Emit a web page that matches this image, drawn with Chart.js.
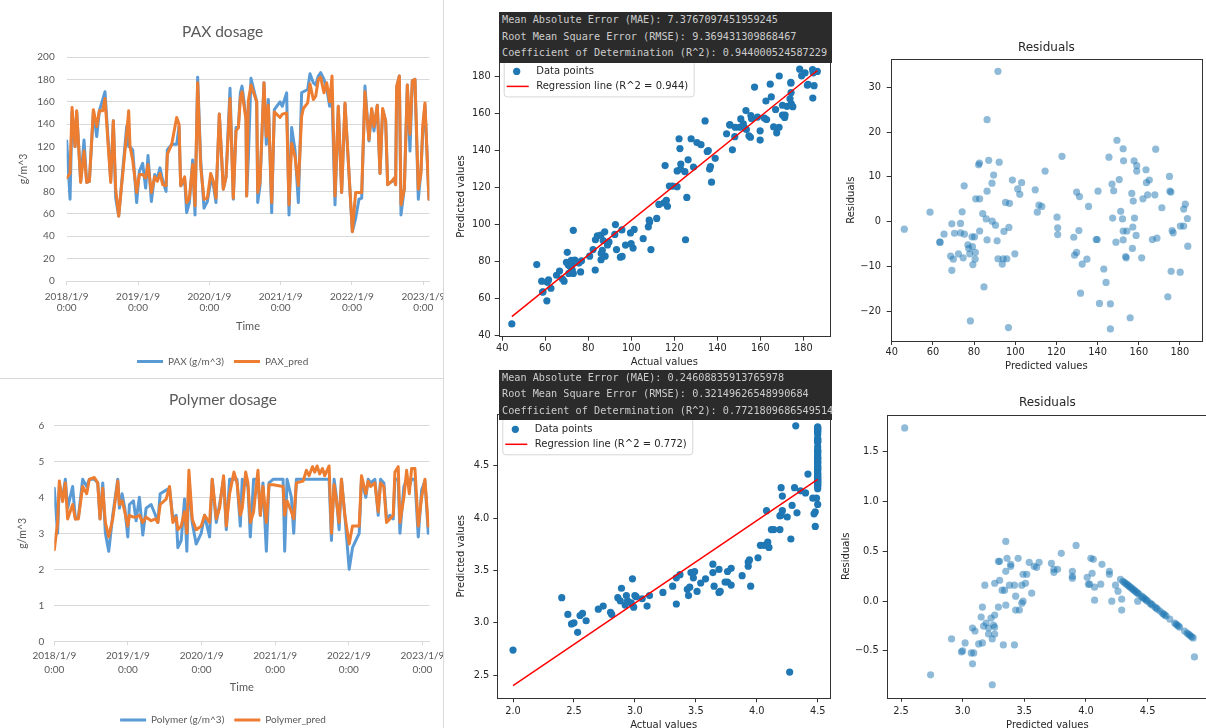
<!DOCTYPE html>
<html>
<head>
<meta charset="utf-8">
<title>PAX and Polymer dosage – prediction diagnostics</title>
<script src="https://cdn.jsdelivr.net/npm/chart.js@4.4.1/dist/chart.umd.min.js"></script>
<style>
  html, body { margin:0; padding:0; background:#ffffff; width:1206px; height:728px; overflow:hidden; position:relative; }
  .panel { position:absolute; overflow:hidden; }
  .panel canvas { position:absolute; left:0; top:0; }
  .metrics { position:absolute; background:#2b2b2b; color:#cccccc; font-family:'DejaVu Sans Mono', monospace; font-size:10.2px; white-space:pre; padding:0 0 0 3px; box-sizing:border-box; z-index:10; }
  .rule { position:absolute; background:#d9d9d9; z-index:5; }
</style>
</head>
<body>
<div class="panel" style="left:0;top:0;width:443px;height:378px;"><canvas id="paxLine" width="460" height="378"></canvas></div>
<div class="panel" style="left:0;top:380px;width:443px;height:348px;"><canvas id="polyLine" width="460" height="356"></canvas></div>
<div class="panel" style="left:440px;top:0;width:400px;height:370px;"><canvas id="paxScatter" width="400" height="370"></canvas></div>
<div class="panel" style="left:440px;top:365px;width:400px;height:363px;"><canvas id="polyScatter" width="400" height="368"></canvas></div>
<div class="panel" style="left:840px;top:0;width:366px;height:375px;"><canvas id="paxResid" width="366" height="375"></canvas></div>
<div class="panel" style="left:840px;top:378px;width:366px;height:350px;"><canvas id="polyResid" width="372" height="356"></canvas></div>
<div class="rule" style="left:443px;top:0;width:1px;height:728px;"></div>
<div class="rule" style="left:0;top:378px;width:443px;height:1px;"></div>
<div class="metrics" id="paxMetricsBox" style="left:499px;top:12px;width:333px;height:51.3px;line-height:16.7px;"></div>
<div class="metrics" id="polyMetricsBox" style="left:499px;top:370px;width:333px;height:50px;line-height:16.35px;"></div>

<script>
// ===================== DATA =====================
const yearTickLabels = [['2018/1/9','0:00'],['2019/1/9','0:00'],['2020/1/9','0:00'],['2021/1/9','0:00'],['2022/1/9','0:00'],['2023/1/9','0:00']];

// PAX time series: time in years since 2018/1/9
const paxT = [0.000,0.047,0.075,0.117,0.140,0.196,0.243,0.280,0.318,0.374,0.421,0.458,0.505,0.537,0.617,0.654,0.687,0.729,0.841,0.869,0.888,0.925,0.981,1.019,1.065,1.107,1.140,1.187,1.234,1.271,1.308,1.346,1.393,1.411,1.472,1.542,1.575,1.598,1.654,1.682,1.720,1.766,1.799,1.836,1.879,1.925,1.972,2.019,2.056,2.093,2.140,2.196,2.234,2.290,2.336,2.374,2.407,2.435,2.458,2.514,2.523,2.547,2.584,2.664,2.678,2.710,2.766,2.799,2.827,2.874,2.911,2.991,3.023,3.084,3.117,3.154,3.201,3.248,3.294,3.318,3.379,3.411,3.458,3.491,3.528,3.561,3.607,3.645,3.687,3.720,3.762,3.808,3.855,3.902,4.005,4.051,4.098,4.136,4.182,4.238,4.276,4.308,4.355,4.393,4.430,4.472,4.500,4.556,4.594,4.612,4.626,4.664,4.687,4.734,4.776,4.813,4.846,4.883,4.930,4.967,4.991,5.023,5.079];
const paxSeriesActual = [125,73,151,120,151,89,126,88,89,151,129,152,162,169,90,143,74,58,138,120,120,117,70,98,105,83,112,71,95,92,101,90,80,117,122,122,138,85,90,61,70,108,59,182,108,65,71,89,86,70,149,82,93,172,73,137,137,168,174,147,76,110,181,160,70,85,177,122,162,61,153,160,156,168,59,137,117,70,168,169,171,185,177,175,183,186,180,172,156,165,68,156,79,158,44,56,73,74,174,125,153,134,157,96,153,143,86,89,90,86,172,183,59,83,175,116,179,180,73,99,131,157,73];
const paxSeriesPred = [92,96,155,120,152,88,116,88,89,153,138,152,152,163,88,143,82,58,132,152,120,108,79,95,95,92,104,79,93,89,96,86,85,113,122,146,140,85,93,70,74,104,67,177,102,73,74,96,89,74,149,82,93,163,74,134,137,163,169,144,76,161,175,160,79,88,177,129,157,70,151,146,149,150,68,123,111,85,147,154,159,176,162,165,180,182,168,177,160,183,76,156,79,159,44,79,79,79,169,126,154,138,157,96,154,143,86,89,92,86,174,183,68,82,175,131,179,180,82,96,138,159,73];

// Polymer time series
const polyT = [0.000,0.045,0.068,0.113,0.150,0.181,0.249,0.286,0.327,0.385,0.440,0.476,0.544,0.590,0.621,0.658,0.694,0.739,0.794,0.862,0.884,0.921,0.957,0.998,1.020,1.075,1.111,1.156,1.202,1.247,1.315,1.374,1.406,1.438,1.519,1.565,1.610,1.655,1.678,1.723,1.769,1.800,1.828,1.873,1.927,1.995,2.041,2.109,2.145,2.200,2.245,2.299,2.336,2.381,2.440,2.481,2.526,2.553,2.599,2.630,2.662,2.707,2.766,2.798,2.834,2.880,2.916,2.971,3.107,3.129,3.161,3.220,3.252,3.288,3.379,3.424,3.460,3.506,3.537,3.569,3.605,3.642,3.673,3.732,3.764,3.800,3.832,3.868,3.900,3.946,4.005,4.050,4.095,4.141,4.172,4.231,4.263,4.295,4.354,4.399,4.431,4.476,4.512,4.558,4.603,4.626,4.671,4.694,4.748,4.785,4.821,4.853,4.898,4.943,4.989,5.034,5.079];
const polySeriesActual = [4.25,3.0,4.3,4.0,4.5,3.7,4.3,3.4,3.45,4.5,4.3,4.5,4.5,4.4,3.4,4.4,3.0,2.5,3.5,4.5,3.7,4.1,3.7,2.9,3.8,3.9,3.35,4.0,2.95,3.7,3.8,3.5,3.3,4.1,4.2,4.25,3.4,3.5,2.6,2.8,3.95,2.5,4.5,3.3,2.7,3.0,3.5,2.9,4.5,3.3,3.8,4.5,3.1,4.5,4.5,4.5,3.2,4.5,4.4,4.3,2.9,4.5,4.5,3.5,4.4,2.5,4.4,4.5,4.5,2.5,4.5,4.0,3.0,4.5,4.5,4.5,4.5,4.5,4.5,4.5,4.5,4.5,4.5,4.5,2.8,4.5,4.0,3.1,4.5,3.5,2.0,2.6,2.8,3.0,4.5,4.0,4.5,4.4,4.5,3.5,4.5,4.4,3.4,3.5,3.4,4.5,4.5,3.0,4.3,4.5,4.3,4.5,4.5,2.9,4.2,4.45,3.0];
const polySeriesPred = [2.54,3.3,4.45,3.88,4.4,3.4,3.8,3.4,3.4,4.3,4.1,4.5,4.55,4.4,3.4,4.25,3.3,2.9,3.4,4.45,3.8,3.9,3.6,3.2,3.5,3.45,3.45,3.5,3.3,3.45,3.35,3.4,3.3,3.8,3.95,4.3,3.3,3.45,3.1,3.2,3.6,3.0,4.75,3.4,3.1,3.2,3.5,3.3,4.5,3.4,3.7,4.6,3.2,4.1,4.7,4.4,3.5,3.7,4.7,4.4,3.3,3.6,4.75,3.5,4.3,3.3,4.35,4.35,4.3,3.5,3.9,3.6,3.4,4.4,4.45,4.75,4.6,4.85,4.7,4.87,4.65,4.8,4.6,4.87,3.0,4.35,3.9,3.3,4.5,3.5,2.7,3.2,3.2,3.2,4.6,4.1,4.45,4.3,4.4,3.6,4.4,4.3,3.3,3.4,3.5,4.7,4.85,3.3,4.0,4.75,4.1,4.8,4.8,3.2,4.0,4.5,3.2];

// PAX test set: actual vs predicted (g/m^3)
const paxActual = [44.4,60.7,58.9,58.7,62.6,60.9,68.7,58.3,61.5,67.9,65.2,73.0,70.9,76.4,66.6,83.2,72.5,71.8,71.4,70.7,56.0,75.6,73.6,69.8,76.8,73.7,72.1,85.9,94.9,95.7,87.8,80.6,86.0,70.2,86.5,93.1,109.1,82.2,100.8,97.3,88.9,99.9,89.6,86.9,125.2,83.3,105.5,84.2,85.8,92.3,99.6,87.6,73.0,95.6,101.3,107.9,92.6,108.5,108.3,111.8,116.8,112.8,115.2,116.3,125.8,121.3,119.2,117.7,137.3,124.9,121.3,136.4,122.9,128.9,136.8,115.7,123.0,126.4,139.0,135.3,135.8,147.0,122.6,132.4,130.5,159.9,127.8,122.2,155.4,148.1,154.7,144.3,167.6,159.9,153.5,152.7,168.7,166.2,148.3,150.3,145.8,152.1,145.8,134.3,162.9,150.9,155.9,161.9,171.3,158.7,171.5,170.3,155.6,153.3,167.1,175.1,172.4,170.3,174.4,162.6,173.8,184.4,165.1,174.3,157.3,185.0,181.9,182.2,164.6,174.2,174.2,168.8,179.2,180.8,184.6,186.5,184.3,178.3];
const paxPred = [46.1,58.6,63.5,63.3,65.4,68.6,69.2,69.2,69.9,70.5,72.4,73.4,73.4,74.2,74.7,75.2,75.3,77.0,77.4,77.9,78.2,79.0,79.2,79.4,80.2,80.6,80.5,80.8,82.2,82.6,82.7,82.7,84.2,84.8,85.9,86.3,86.3,86.3,87.1,88.7,88.8,89.5,90.4,91.2,91.6,91.6,92.2,93.7,94.1,94.5,95.3,95.9,96.7,96.9,97.2,98.6,99.8,101.2,102.2,103.1,109.7,110.7,111.5,112.9,114.5,120.3,120.6,120.6,122.7,128.4,128.8,129.8,129.8,130.9,131.2,131.7,132.5,134.8,135.6,139.3,139.8,140.2,140.9,143.0,144.1,145.5,146.2,146.2,147.0,147.3,147.8,148.9,149.4,150.5,151.2,152.1,152.4,152.6,152.4,152.4,153.6,154.2,153.9,155.8,156.6,156.9,157.1,157.3,157.7,157.9,159.0,159.0,158.7,161.4,162.0,163.5,163.7,164.3,165.1,166.6,167.8,168.2,168.8,171.2,174.1,174.9,175.1,175.6,175.7,176.2,176.7,180.1,180.2,181.8,181.8,182.6,183.6,183.8];

// Polymer test set: actual vs predicted (g/m^3)
const polyActual = [4.27,2.00,2.53,2.48,2.50,2.60,2.55,2.45,2.81,2.57,2.80,2.70,2.99,3.10,2.74,2.92,3.34,2.97,2.94,2.88,2.40,3.06,2.86,3.01,3.00,2.93,3.44,3.12,3.69,3.70,3.51,3.23,3.43,2.89,3.45,3.95,3.65,3.31,3.79,3.74,3.76,3.54,3.58,3.48,2.98,3.34,3.88,3.37,3.64,3.46,3.76,3.49,3.69,3.79,3.93,3.64,3.93,3.94,4.01,4.10,4.03,4.06,4.09,4.28,4.19,4.14,4.12,4.48,4.25,4.19,4.47,4.33,4.20,4.48,4.21,4.08,4.29,4.50,4.46,4.49,4.21,4.40,4.36,4.50,4.31,4.20,4.42,4.32,4.5,4.5,4.5,4.5,4.5,4.5,4.5,4.5,4.5,4.5,4.5,4.5,4.5,4.5,4.5,4.5,4.5,4.5,4.5,4.5,4.5,4.5,4.5,4.5,4.5,4.5,4.5,4.5,4.5,4.5,4.5,4.5,4.5,4.5,4.5,4.5,4.5,4.5,4.5,4.5,4.5,4.5,4.5,4.5];
const polyPred = [2.53,2.74,2.91,2.99,3.00,3.02,3.07,3.08,3.08,3.09,3.10,3.13,3.15,3.16,3.16,3.17,3.18,3.19,3.21,3.21,3.24,3.23,3.24,3.25,3.26,3.26,3.26,3.26,3.29,3.30,3.30,3.29,3.32,3.33,3.34,3.35,3.35,3.35,3.36,3.39,3.39,3.38,3.42,3.43,3.42,3.43,3.45,3.46,3.48,3.48,3.49,3.49,3.51,3.52,3.54,3.56,3.58,3.60,3.62,3.72,3.74,3.74,3.77,3.80,3.89,3.89,3.89,3.92,4.01,4.02,4.04,4.05,4.03,4.06,4.07,4.07,4.12,4.13,4.19,4.19,4.21,4.24,4.26,4.28,4.29,4.29,4.42,4.88,4.30,4.31,4.32,4.33,4.34,4.35,4.36,4.37,4.38,4.39,4.40,4.41,4.42,4.43,4.45,4.46,4.47,4.48,4.49,4.50,4.52,4.53,4.54,4.56,4.57,4.58,4.60,4.62,4.63,4.64,4.65,4.68,4.72,4.73,4.74,4.75,4.76,4.80,4.82,4.83,4.84,4.85,4.86,4.87];

const paxFit = { slope: 0.936, intercept: 8.5, r2: '0.944' };
const polyFit = { slope: 0.788, intercept: 0.824, r2: '0.772' };

const paxMetrics = ['Mean Absolute Error (MAE): 7.3767097451959245', 'Root Mean Square Error (RMSE): 9.369431309868467', 'Coefficient of Determination (R^2): 0.944000524587229'];
const polyMetrics = ['Mean Absolute Error (MAE): 0.24608835913765978', 'Root Mean Square Error (RMSE): 0.32149626548990684', 'Coefficient of Determination (R^2): 0.7721809686549514'];

// ===================== METRIC BOXES =====================
document.getElementById('paxMetricsBox').textContent = paxMetrics.join('\n');
document.getElementById('polyMetricsBox').textContent = polyMetrics.join('\n');

// ===================== EXCEL-STYLE LINE CHARTS =====================
const XL_FONT = 'Lato';
const XL_TXT = '#595959';

function excelLine(id, c) {
  const mk = (arr) => c.t.map((t, i) => ({ x: t, y: arr[i] }));
  return new Chart(document.getElementById(id), {
    type: 'line',
    data: {
      datasets: [
        { label: c.labels[0], data: mk(c.actual), borderColor: '#5B9BD5', backgroundColor: '#5B9BD5', borderWidth: 3, pointRadius: 0, tension: 0, order: 1, borderJoinStyle: 'round', borderCapStyle: 'round' },
        { label: c.labels[1], data: mk(c.pred), borderColor: '#ED7D31', backgroundColor: '#ED7D31', borderWidth: 3, pointRadius: 0, tension: 0, order: 0, borderJoinStyle: 'round', borderCapStyle: 'round' }
      ]
    },
    options: {
      responsive: false, animation: false, events: [],
      layout: { padding: c.pad },
      plugins: {
        title: { display: true, text: c.title, color: XL_TXT, font: { family: XL_FONT, size: 15.5, weight: 'normal' }, padding: c.titlePad },
        legend: { position: 'bottom', labels: { usePointStyle: true, pointStyle: 'line', pointStyleWidth: 26, color: XL_TXT, font: { family: XL_FONT, size: 10 }, padding: 10, sort: (a, b) => a.datasetIndex - b.datasetIndex } },
        tooltip: { enabled: false }
      },
      scales: {
        x: {
          type: 'linear', min: 0, max: c.xMax,
          afterFit(s) { s.height = c.xH; },
          ticks: { stepSize: 1, includeBounds: false, autoSkip: false, maxRotation: 0, padding: c.xTickPad, color: XL_TXT, font: { family: XL_FONT, size: 10, lineHeight: c.xLH }, callback: v => yearTickLabels[Math.round(v)] },
          grid: { display: true, drawOnChartArea: false, drawTicks: true, tickLength: 4, color: '#d9d9d9' },
          border: { display: true, color: '#d9d9d9' },
          title: { display: true, text: 'Time', color: XL_TXT, font: { family: XL_FONT, size: 11 }, padding: { top: c.xTitlePad, bottom: c.xTitlePad } }
        },
        y: {
          min: 0, max: c.yMax,
          afterFit(s) { s.width = c.yW; },
          ticks: { stepSize: c.yStep, padding: c.yTickPad, color: XL_TXT, font: { family: XL_FONT, size: 10 } },
          grid: { color: '#d9d9d9', drawTicks: false },
          border: { display: false },
          title: { display: true, text: 'g/m^3', color: XL_TXT, font: { family: XL_FONT, size: 10.5 }, padding: { top: c.yTitlePad, bottom: c.yTitlePad } }
        }
      }
    }
  });
}

excelLine('paxLine', {
  t: paxT, actual: paxSeriesActual, pred: paxSeriesPred, labels: ['PAX (g/m^3)', 'PAX_pred'], title: 'PAX dosage',
  pad: { left: 16, right: 30.7, top: 0, bottom: 1.5 }, titlePad: { top: 22.7, bottom: 15.7 },
  xMax: 5.084, xH: 65.5, xTickPad: 6, xLH: 1.15, xTitlePad: 13.2,
  yMax: 200, yStep: 20, yW: 50.7, yTickPad: 12, yTitlePad: 1.7
});

excelLine('polyLine', {
  t: polyT, actual: polySeriesActual, pred: polySeriesPred, labels: ['Polymer (g/m^3)', 'Polymer_pred'], title: 'Polymer dosage',
  pad: { left: 16.7, right: 30.7, top: 0, bottom: 1 }, titlePad: { top: 10.7, bottom: 16 },
  xMax: 5.093, xH: 63.7, xTickPad: 3.6, xLH: 1.36, xTitlePad: 10.7,
  yMax: 6, yStep: 1, yW: 37.6, yTickPad: 10, yTitlePad: 0
});

// ===================== MATPLOTLIB-STYLE SCATTER CHARTS =====================
const MPL = 'DejaVu Sans';
const MPL_TXT = '#262626';
const fmtInt = v => String(Math.round(v)).replace('-', '\u2212');
const fmt1 = v => v.toFixed(1).replace('-', '\u2212');

function mplAxis(o) {
  return {
    type: 'linear', position: o.position, min: o.min, max: o.max,
    afterFit(s) { if (o.position === 'bottom') s.height = o.size; else s.width = o.size; },
    ticks: { stepSize: o.step, includeBounds: false, autoSkip: false, maxRotation: 0, padding: o.tickPad, color: MPL_TXT, font: { family: MPL, size: 9.8 }, callback: o.fmt },
    grid: { display: true, drawOnChartArea: false, drawTicks: true, tickLength: 4, tickWidth: 1, color: '#333333' },
    border: { display: false },
    title: { display: true, text: o.title, color: MPL_TXT, font: { family: MPL, size: 10 }, padding: { top: o.titlePad, bottom: o.titlePad } }
  };
}

const mplFrame = {
  id: 'mplFrame',
  afterDatasetsDraw(chart) {
    const { ctx, chartArea: a } = chart;
    ctx.save();
    ctx.strokeStyle = '#333333';
    ctx.lineWidth = 1;
    ctx.strokeRect(Math.round(a.left) + 0.5, Math.round(a.top) + 0.5, Math.round(a.right - a.left), Math.round(a.bottom - a.top));
    ctx.restore();
  }
};

function mplLegend(lineLabel) {
  return {
    id: 'mplLegend',
    afterDraw(chart) {
      const { ctx, chartArea: a } = chart;
      ctx.save();
      ctx.font = '10px "DejaVu Sans"';
      const tx = a.left + 37.5;
      const w = Math.max(ctx.measureText('Data points').width, ctx.measureText(lineLabel).width);
      const x0 = a.left + 5.5, y0 = a.top + 4, x1 = tx + w + 6, y1 = a.top + 40.5, r = 3;
      ctx.beginPath();
      ctx.moveTo(x0 + r, y0); ctx.lineTo(x1 - r, y0); ctx.quadraticCurveTo(x1, y0, x1, y0 + r);
      ctx.lineTo(x1, y1 - r); ctx.quadraticCurveTo(x1, y1, x1 - r, y1);
      ctx.lineTo(x0 + r, y1); ctx.quadraticCurveTo(x0, y1, x0, y1 - r);
      ctx.lineTo(x0, y0 + r); ctx.quadraticCurveTo(x0, y0, x0 + r, y0);
      ctx.closePath();
      ctx.fillStyle = 'rgba(255,255,255,0.8)'; ctx.fill();
      ctx.strokeStyle = '#d6d6d6'; ctx.lineWidth = 1; ctx.stroke();
      ctx.fillStyle = '#1f77b4';
      ctx.beginPath(); ctx.arc(a.left + 18, a.top + 15, 3.6, 0, Math.PI * 2); ctx.fill();
      ctx.strokeStyle = '#ff0000'; ctx.lineWidth = 1.5;
      ctx.beginPath(); ctx.moveTo(a.left + 8, a.top + 30); ctx.lineTo(a.left + 30, a.top + 30); ctx.stroke();
      ctx.fillStyle = MPL_TXT; ctx.textBaseline = 'middle'; ctx.textAlign = 'left';
      ctx.fillText('Data points', tx, a.top + 15);
      ctx.fillText(lineLabel, tx, a.top + 30);
      ctx.restore();
    }
  };
}

function scatterChart(id, c) {
  const pts = c.actual.map((v, i) => ({ x: v, y: c.pred[i] }));
  const xLo = Math.min(...c.actual), xHi = Math.max(...c.actual);
  const fitLine = [{ x: xLo, y: c.fit.slope * xLo + c.fit.intercept }, { x: xHi, y: c.fit.slope * xHi + c.fit.intercept }];
  return new Chart(document.getElementById(id), {
    type: 'scatter',
    data: { datasets: [
      { label: 'Regression line (R^2 = ' + c.fit.r2 + ')', data: fitLine, showLine: true, borderColor: '#ff0000', borderWidth: 1.5, pointRadius: 0, order: 0 },
      { label: 'Data points', data: pts, backgroundColor: '#1f77b4', pointRadius: 3.6, borderWidth: 0, order: 1 }
    ] },
    options: {
      responsive: false, animation: false, events: [],
      layout: { padding: c.pad },
      plugins: { legend: { display: false }, tooltip: { enabled: false }, title: { display: false } },
      scales: { x: mplAxis(c.x), y: mplAxis(c.y) }
    },
    plugins: [mplFrame, mplLegend('Regression line (R^2 = ' + c.fit.r2 + ')')]
  });
}

function residualChart(id, c) {
  const pts = c.actual.map((v, i) => ({ x: c.pred[i], y: v - c.pred[i] }));
  return new Chart(document.getElementById(id), {
    type: 'scatter',
    data: { datasets: [ { label: 'Residuals', data: pts, backgroundColor: 'rgba(31,119,180,0.5)', pointRadius: 3.6, borderWidth: 0 } ] },
    options: {
      responsive: false, animation: false, events: [],
      layout: { padding: c.pad },
      plugins: {
        legend: { display: false }, tooltip: { enabled: false },
        title: { display: true, text: 'Residuals', fullSize: false, color: MPL_TXT, font: { family: MPL, size: 12, weight: 'normal' }, padding: c.titlePad }
      },
      scales: { x: mplAxis(c.x), y: mplAxis(c.y) }
    },
    plugins: [mplFrame]
  });
}

scatterChart('paxScatter', {
  actual: paxActual, pred: paxPred, fit: paxFit,
  pad: { left: 10, right: 10, top: 56.4, bottom: 0 },
  x: { position: 'bottom', min: 38.3, max: 192.4, step: 20, fmt: fmtInt, title: 'Actual values', size: 33.3, tickPad: 1.6, titlePad: 1.3 },
  y: { position: 'left', min: 39.2, max: 190.7, step: 20, fmt: fmtInt, title: 'Predicted values', size: 48.7, tickPad: 4, titlePad: 5.7 }
});

scatterChart('polyScatter', {
  actual: polyActual, pred: polyPred, fit: polyFit,
  pad: { left: 10, right: 10, top: 49.3, bottom: 0 },
  x: { position: 'bottom', min: 1.871, max: 4.601, step: 0.5, fmt: fmt1, title: 'Actual values', size: 34.7, tickPad: 3.4, titlePad: 2 },
  y: { position: 'left', min: 2.28, max: 4.99, step: 0.5, fmt: fmt1, title: 'Predicted values', size: 47.3, tickPad: 4, titlePad: 5.7 }
});

residualChart('paxResid', {
  actual: paxActual, pred: paxPred,
  pad: { left: 0, right: 1.7, top: 0, bottom: 0 }, titlePad: { top: 40.5, bottom: 4.4 },
  x: { position: 'bottom', min: 39.5, max: 190.7, step: 20, fmt: fmtInt, title: 'Predicted values', size: 34, tickPad: 1.7, titlePad: 2.3 },
  y: { position: 'left', min: -26.7, max: 36.3, step: 10, fmt: fmtInt, title: 'Residuals', size: 50.7, tickPad: 5.7, titlePad: 5.7 }
});

residualChart('polyResid', {
  actual: polyActual, pred: polyPred,
  pad: { left: 0, right: 4, top: 0, bottom: 0 }, titlePad: { top: 18.1, bottom: 4.5 },
  x: { position: 'bottom', min: 2.384, max: 4.99, step: 0.5, fmt: fmt1, title: 'Predicted values', size: 36.3, tickPad: 4, titlePad: 3 },
  y: { position: 'left', min: -0.97, max: 1.87, step: 0.5, fmt: fmt1, title: 'Residuals', size: 46.7, tickPad: 4, titlePad: 0 }
});
</script>
</body>
</html>
